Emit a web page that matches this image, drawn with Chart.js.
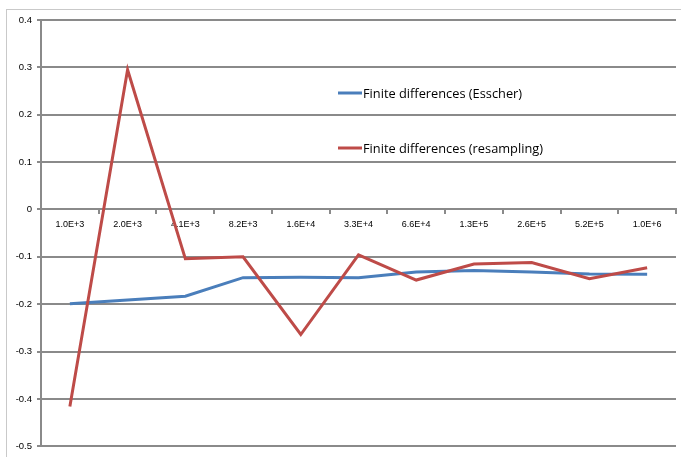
<!DOCTYPE html>
<html>
<head>
<meta charset="utf-8">
<script src="https://cdn.jsdelivr.net/npm/chart.js@4/dist/chart.umd.min.js"></script>
<style>
  html, body { margin: 0; padding: 0; background: #fff; }
  #wrap { position: relative; width: 681px; height: 457px; overflow: hidden; }
  #frame { position: absolute; left: 6px; top: 9px; width: 700px; height: 470px;
           border-left: 1px solid #c9c9c9; border-top: 1px solid #c9c9c9; }
  canvas { position: absolute; left: 0; top: 0; }
</style>
</head>
<body>
<div id="wrap">
  <div id="frame"></div>
  <canvas id="chart" width="681" height="457"></canvas>
</div>
<script>
// sample sizes on the category axis
const categories = ['1.0E+3', '2.0E+3', '4.1E+3', '8.2E+3', '1.6E+4', '3.3E+4',
                    '6.6E+4', '1.3E+5', '2.6E+5', '5.2E+5', '1.0E+6'];

const esscher = [-0.199, -0.191, -0.183, -0.144, -0.143, -0.144,
                 -0.132, -0.129, -0.132, -0.136, -0.137];

const resampling = [-0.416, 0.295, -0.104, -0.100, -0.264, -0.096,
                    -0.149, -0.115, -0.112, -0.146, -0.123];

const seriesNames = ['Finite differences (Esscher)', 'Finite differences (resampling)'];
const seriesColors = ['#4a7ebb', '#be4b48'];

const gridColor = '#8a8a8a';

// legend sits inside the plot, Excel style
const insideLegend = {
  id: 'insideLegend',
  afterDraw(chart) {
    const ctx = chart.ctx;
    const rows = [93, 148];
    ctx.save();
    ctx.font = '12.8px "Open Sans"';
    ctx.textBaseline = 'middle';
    seriesNames.forEach((name, i) => {
      ctx.strokeStyle = seriesColors[i];
      ctx.lineWidth = 3;
      ctx.beginPath();
      ctx.moveTo(338, rows[i]);
      ctx.lineTo(362, rows[i]);
      ctx.stroke();
      ctx.fillStyle = '#000';
      ctx.fillText(name, 363, rows[i] + 1);
    });
    ctx.restore();
  }
};

const context = document.getElementById('chart').getContext('2d');
new Chart(context, {
  type: 'line',
  data: {
    labels: categories,
    datasets: [
      { label: seriesNames[0], data: esscher, borderColor: seriesColors[0], order: 1 },
      { label: seriesNames[1], data: resampling, borderColor: seriesColors[1], order: 0 }
    ]
  },
  options: {
    responsive: false,
    animation: false,
    layout: { padding: { left: 0, top: 20, right: 5, bottom: 10 } },
    elements: {
      line: { borderWidth: 3, tension: 0, borderCapStyle: 'butt', borderJoinStyle: 'miter' },
      point: { radius: 0 }
    },
    plugins: { legend: { display: false }, tooltip: { enabled: false } },
    scales: {
      x: {
        position: { y: 0 },
        offset: true,
        grid: { display: true, drawOnChartArea: false, offset: true, tickLength: 4, color: gridColor, lineWidth: 2 },
        border: { display: true, color: gridColor, width: 2 },
        ticks: { color: '#000', font: { family: 'Liberation Sans', size: 9 }, padding: 6, maxRotation: 0, autoSkip: false }
      },
      y: {
        min: -0.5,
        max: 0.4,
        afterFit: s => { s.width = 41; },
        grid: { color: gridColor, lineWidth: 2, tickLength: 4 },
        border: { display: true, color: gridColor, width: 2 },
        ticks: {
          stepSize: 0.1,
          color: '#000',
          padding: 5,
          font: { family: 'Liberation Sans', size: 9.5 },
          callback: v => String(Math.round(v * 10) / 10)
        }
      }
    }
  },
  plugins: [insideLegend]
});
</script>
</body>
</html>
